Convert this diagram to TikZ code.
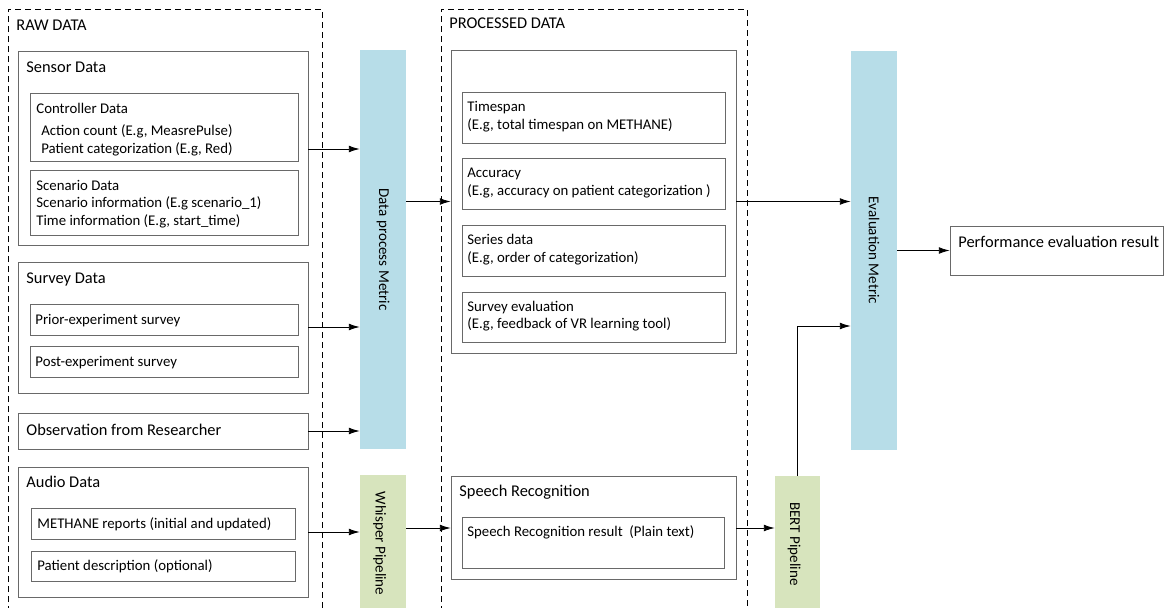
\documentclass[tikz,border=0pt]{standalone}
\usepackage{fontspec}
\setmainfont{Carlito}
\usetikzlibrary{arrows.meta, fit}
\definecolor{barblue}{RGB}{183,221,232}
\definecolor{bargreen}{RGB}{215,228,189}
\definecolor{boxgray}{RGB}{105,105,105}

\begin{document}
\begin{tikzpicture}[x=0.75pt, y=-0.75pt, line width=0.6pt,
	>={Latex[length=8pt,width=5pt]},
	box/.style={draw=boxgray, inner sep=0pt},
	bar/.style={inner sep=0pt},
	lbl/.style={anchor=west, inner sep=0pt, yshift=-1pt, text height=1.38ex, text depth=0pt, font=\fontsize{11.1}{13}\selectfont},
	head/.style={lbl, font=\fontsize{12.3}{14}\selectfont},
	vlbl/.style={rotate=-90, inner sep=0pt, font=\fontsize{11.3}{13}\selectfont},
	group/.style={dash pattern=on 4.5pt off 3pt, line width=0.7pt}]
			\useasboundingbox (0,0) rectangle (1164,607);
			% raw data column
			\draw[group] (8,612) -- (8,9) -- (322,9) -- (322,612);
			\node[head] (rawtxt) at (16,25) {RAW DATA};
			\node[box, fit={(18,51) (308,245)}] (sensor) {};
			\node[head] (sensortxt) at (26,67) {Sensor Data};
			\node[box, fit={(30,93) (298,161)}] (ctrl) {};
			\node[lbl] (ctrltxt) at (36,108) {Controller Data};
			\node[lbl] (actiontxt) at (41,130) {Action count (E.g, MeasrePulse)};
			\node[lbl] (cattxt) at (41,148) {Patient categorization (E.g, Red)};
			\node[box, fit={(30,170) (298,235)}] (scen) {};
			\node[lbl] (scentxt) at (36,185) {Scenario Data};
			\node[lbl] (scinfotxt) at (36,202) {Scenario information (E.g scenario\_1)};
			\node[lbl] (timetxt) at (36,220) {Time information (E.g, start\_time)};
			\node[box, fit={(18,262) (308,393)}] (survey) {};
			\node[head] (surveytxt) at (26,278) {Survey Data};
			\node[box, fit={(30,304) (298,335)}] (prior) {};
			\node[lbl] (priortxt) at (35,319) {Prior-experiment survey};
			\node[box, fit={(30,346) (298,377)}] (post) {};
			\node[lbl] (posttxt) at (35,361) {Post-experiment survey};
			\node[box, fit={(18,413) (308,449)}] (obs) {};
			\node[head] (obstxt) at (26,430) {Observation from Researcher};
			\node[box, fit={(18,467) (308,597)}] (audio) {};
			\node[head] (audiotxt) at (26,482) {Audio Data};
			\node[box, fit={(31,508) (295,539)}] (methane) {};
			\node[lbl] (methanetxt) at (37,523) {METHANE reports (initial and updated)};
			\node[box, fit={(31,551) (295,581)}] (desc) {};
			\node[lbl] (desctxt) at (37,565) {Patient description (optional)};
			% pipelines
			\node[bar, fill=barblue, fit={(360,50) (406,449)}, label={[vlbl]center:Data process Metric}] (dpm) {};
			\node[bar, fill=bargreen, fit={(360,475) (406,612)}, label={[vlbl, yshift=-2.5pt]center:Whisper Pipeline}] (whisper) {};
			% processed data column
			\draw[group] (441,612) -- (441,9) -- (747,9) -- (747,612);
			\node[head] (proctxt) at (449,23) {PROCESSED DATA};
			\node[box, fit={(451,50) (736,353)}] (proc) {};
			\node[box, fit={(462,92) (725,143)}] (span) {};
			\node[lbl] (spantxt) at (467,106) {Timespan};
			\node[lbl] (spanex) at (467,124) {(E.g, total timespan on METHANE)};
			\node[box, fit={(462,158) (725,209)}] (acc) {};
			\node[lbl] (acctxt) at (467,172) {Accuracy};
			\node[lbl] (accex) at (467,190) {(E.g, accuracy on patient categorization )};
			\node[box, fit={(462,225) (725,276)}] (series) {};
			\node[lbl] (seriestxt) at (467,239) {Series data};
			\node[lbl] (seriesex) at (467,257) {(E.g, order of categorization)};
			\node[box, fit={(462,292) (725,342)}] (sureval) {};
			\node[lbl] (surevaltxt) at (467,306) {Survey evaluation};
			\node[lbl] (surevalex) at (467,323) {(E.g, feedback of VR learning tool)};
			\node[box, fit={(451,476) (736,579)}] (speech) {};
			\node[head] (speechtxt) at (459,491) {Speech Recognition};
			\node[box, fit={(462,517) (724,568)}] (result) {};
			\node[lbl] (resulttxt) at (467,531) {Speech Recognition result~~(Plain text)};
			% evaluation
			\node[bar, fill=bargreen, fit={(775,476) (820,612)}, label={[vlbl, yshift=-2.5pt]center:BERT Pipeline}] (bert) {};
			\node[bar, fill=barblue, fit={(851,51) (897,450)}, label={[vlbl]center:Evaluation Metric}] (eval) {};
			\node[box, fit={(950,226) (1163,275)}] (perf) {};
			\node[head] (perftxt) at (958,242) {Performance evaluation result};
			% connectors
			\draw[->] (sensor.east |- 0,149) -- (dpm.west |- 0,149);
			\draw[->] (survey.east |- 0,327) -- (dpm.west |- 0,327);
			\draw[->] (obs.east) -- (dpm.west |- obs.east);
			\draw[->] (audio.east |- 0,532) -- (whisper.west |- 0,532);
			\draw[->] (dpm.east |- proc.west) -- (proc.west);
			\draw[->] (whisper.east |- 0,528) -- (speech.west |- 0,528);
			\draw[->] (speech.east |- 0,528) -- (bert.west |- 0,528);
			\draw[->] (proc.east) -- (eval.west |- proc.east);
			\draw[->] (bert.north) |- (eval.west |- 0,326);
			\draw[->] (eval.east) -- (perf.west);
\end{tikzpicture}
\end{document}
